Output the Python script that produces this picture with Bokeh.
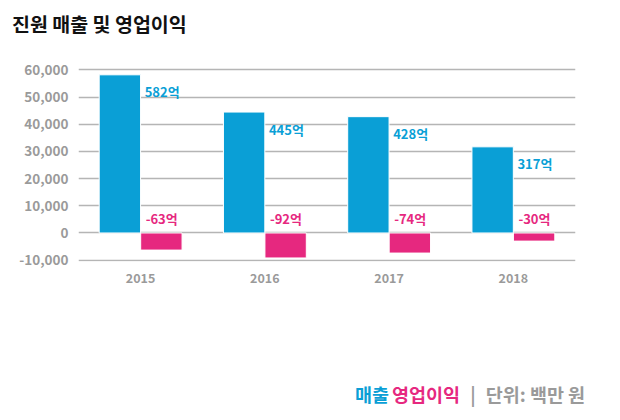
from bokeh.plotting import figure, ColumnDataSource
from bokeh.models import LabelSet, NumeralTickFormatter, FixedTicker, Range1d, Div, Spacer
from bokeh.core.properties import value
from bokeh.layouts import column
from bokeh.transform import dodge
from bokeh.embed import file_html
from bokeh.resources import INLINE

years = ['2015', '2016', '2017', '2018']
revenue = [58200, 44500, 42800, 31700]       # 매출 (백만 원)
op_profit = [-6300, -9200, -7400, -3000]     # 영업이익 (백만 원)
y_ticks = [-10000, 0, 10000, 20000, 30000, 40000, 50000, 60000]

title_text = "진원 매출 및 영업이익"
footer_text = ["매출", "영업이익", "|", "단위: 백만 원"]

BLUE = "#0a9fd6"
PINK = "#e6287f"
GRAY = "#9a9a9a"
FONT = "Noto Sans CJK KR"
W = 604

# header
head = Div(text=title_text, width=W, height=40, margin=(0, 0, 0, 0),
           styles={"font-family": FONT, "font-weight": "bold", "font-size": "19.5px",
                   "color": "#111111", "line-height": "48px", "padding-left": "12px",
                   "white-space": "nowrap"})

# main chart
source = ColumnDataSource(data=dict(
    year=years,
    rev=revenue,
    op=op_profit,
    zero=[0] * len(years),
    rev_txt=["%d억" % round(v / 100) for v in revenue],
    op_txt=["%d억" % round(v / 100) for v in op_profit],
))

p = figure(x_range=years, y_range=Range1d(-10500, 62000),
           width=W, height=261, output_backend="svg", toolbar_location=None,
           min_border_left=78, min_border_right=29, min_border_top=24, min_border_bottom=40)
p.outline_line_color = None
p.background_fill_color = "white"
p.border_fill_color = "white"

p.vbar(x=dodge('year', -0.167, range=p.x_range), top='rev', width=0.333,
       source=source, color=BLUE, line_color="white", line_width=1)
p.vbar(x=dodge('year', 0.167, range=p.x_range), top='op', width=0.333,
       source=source, color=PINK, line_color="white", line_width=1)

p.add_layout(LabelSet(x=dodge('year', 0.0, range=p.x_range), y='rev', text='rev_txt',
                      source=source, x_offset=4, y_offset=-17, text_baseline="middle",
                      text_color=BLUE, text_font=value(FONT), text_font_style="bold",
                      text_font_size="13px"))
p.add_layout(LabelSet(x=dodge('year', 0.0, range=p.x_range), y='zero', text='op_txt',
                      source=source, x_offset=5, y_offset=14, text_baseline="middle",
                      text_color=PINK, text_font=value(FONT), text_font_style="bold",
                      text_font_size="13px"))

p.xgrid.grid_line_color = None
p.ygrid.grid_line_color = "#b5b5b5"
p.ygrid.grid_line_width = 1.5
p.yaxis.ticker = FixedTicker(ticks=y_ticks)
p.yaxis.formatter = NumeralTickFormatter(format="0,0")

for ax in (p.xaxis, p.yaxis):
    ax.axis_line_color = None
    ax.major_tick_line_color = None
    ax.minor_tick_line_color = None
    ax.major_label_text_color = GRAY
    ax.major_label_text_font = FONT
    ax.major_label_text_font_style = "bold"
    ax.major_label_text_font_size = "13.5px"
p.yaxis.major_label_standoff = 4
p.xaxis.major_label_standoff = 5
p.xaxis.major_label_text_font_size = "12.5px"

# footer legend
gaps = [355, 3, 10, 10]
spans = "".join('<span style="color:%s;margin-left:%dpx">%s</span>' % (c, g, t)
                for t, c, g in zip(footer_text, [BLUE, PINK, GRAY, GRAY], gaps))
foot = Div(text=spans, width=W, height=20, margin=(0, 0, 0, 0),
           styles={"font-family": FONT, "font-weight": "bold", "font-size": "18.5px",
                   "line-height": "20px", "white-space": "nowrap"})

layout = column(head, p, Spacer(height=83), foot, spacing=0)
open("out.html", "w").write(file_html(layout, INLINE))
